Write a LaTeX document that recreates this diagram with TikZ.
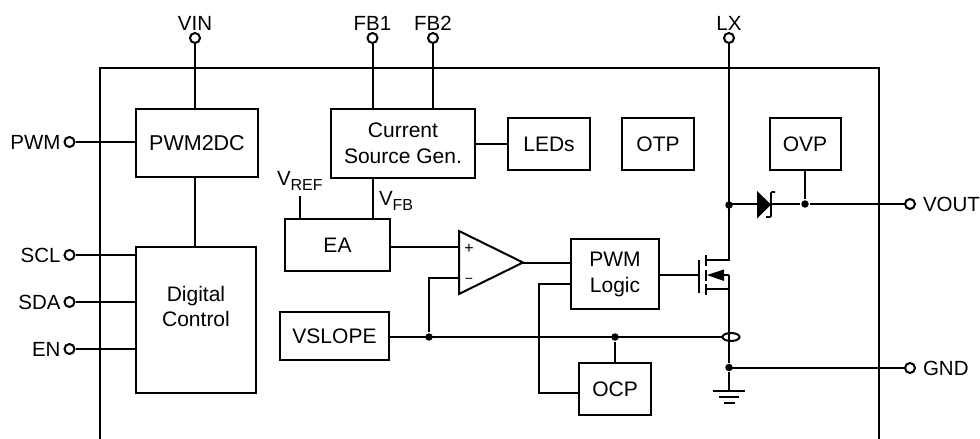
\documentclass[tikz,border=0pt]{standalone}
\usepackage{fontspec}
\setmainfont{Liberation Sans}
\usetikzlibrary{shapes,positioning}

\tikzset{
  every node/.style={font=\fontsize{21}{26}\selectfont},
  blockbox/.style={draw, rectangle, align=center, inner sep=0pt},
  pinring/.style={draw, circle, inner sep=0pt, minimum size=10pt},
  pinname/.style={inner sep=0pt, font=\fontsize{20.5}{26}\selectfont},
  junction/.style={fill, circle, inner sep=0pt, minimum size=7.5pt},
}
\newcommand{\subtag}[1]{\raisebox{-4.5pt}{\fontsize{16}{16}\selectfont #1}}

\begin{document}
\begin{tikzpicture}[x=1pt, y=-1pt, line width=2pt]
    \useasboundingbox (0,0) rectangle (980,439);
    % chip outline
    \coordinate (chipbl) at (100,439);
    \coordinate (chipbr) at (879,439);
    \draw (chipbl) |- (chipbr |- 0,68) -- (chipbr);
    % blocks
    \node[blockbox, minimum width=122pt, minimum height=68pt, font=\fontsize{21.5}{26}\selectfont] (pwmdc) at (197,143) {PWM2DC};
    \node[blockbox, minimum width=120pt, minimum height=146pt] (digital) at (196,320) {};
    \node[pinname, align=center, font=\fontsize{21}{25}\selectfont] (digitalname) at (196,306) {Digital\\Control};
    \node[blockbox, minimum width=144pt, minimum height=69pt] (source) at (403,143.5) {Current\\Source Gen.};
    \node[blockbox, minimum width=82pt, minimum height=52pt] (leds) at (549,144) {LEDs};
    \node[blockbox, minimum width=72pt, minimum height=52pt] (otp) at (658,144) {OTP};
    \node[blockbox, minimum width=71pt, minimum height=52pt] (ovp) at (805,144) {OVP};
    \node[blockbox, minimum width=105pt, minimum height=52pt] (ea) at (337.5,245) {EA};
    \node[blockbox, minimum width=88pt, minimum height=70pt] (logic) at (615,274) {PWM\\Logic};
    \node[blockbox, minimum width=109pt, minimum height=48pt] (vslope) at (334.5,336) {VSLOPE};
    \node[blockbox, minimum width=72pt, minimum height=52pt] (ocp) at (615,389) {OCP};
    % pins
    \node[pinring] (vin) at (195,38) {};
    \node[pinring] (fba) at (372.5,38) {};
    \node[pinring] (fbb) at (433,38) {};
    \node[pinring] (lx) at (729,38) {};
    \node[pinring] (pwm) at (69.5,142) {};
    \node[pinring] (scl) at (69.5,255) {};
    \node[pinring] (sda) at (69.5,302) {};
    \node[pinring] (en) at (69.5,349) {};
    \node[pinring] (vout) at (910,204) {};
    \node[pinring] (gnd) at (910,368) {};
    \node[pinname, above=1pt of vin] (vinname) {VIN};
    \node[pinname, above=1pt of fba] (fbaname) {FB1};
    \node[pinname, above=1pt of fbb] (fbbname) {FB2};
    \node[pinname, above=1pt of lx] (lxname) {LX};
    \node[pinname, left=2pt of pwm] (pwmname) {PWM};
    \node[pinname, left=2pt of scl] (sclname) {SCL};
    \node[pinname, left=2pt of sda] (sdaname) {SDA};
    \node[pinname, left=2pt of en] (enname) {EN};
    \node[pinname, right=6pt of vout] (voutname) {VOUT};
    \node[pinname, right=6pt of gnd] (gndname) {GND};
    \foreach \p/\q in {vin/pwmdc, fba/source, fbb/source}
      \draw (\p) -- (\p |- \q.north);
    \foreach \p/\q in {pwm/pwmdc, scl/digital, sda/digital, en/digital}
      \draw (\p) -- (\p -| \q.west);
    \draw (pwmdc.south -| vin) -- (digital.north -| vin);
    \draw (source.east |- leds) -- (leds);
    % error amp and comparator
    \coordinate (feedback) at (373,178);
    \draw (feedback) -- (feedback |- ea.north);
    \node[pinname, anchor=west] (vfb) at (378,201) {V\subtag{FB}};
    \coordinate (refstub) at (299.5,196);
    \draw (refstub) -- (refstub |- ea.north);
    \node[pinname, anchor=west] (vref) at (276,181) {V\subtag{REF}};
    \coordinate (opa) at (459,231);
    \coordinate (opb) at (459,294);
    \coordinate (opout) at (523,262.5);
    \coordinate (opplus) at (459,247);
    \coordinate (opminus) at (459,278);
    \draw[line join=miter] (opa) -- (opout) -- (opb) -- cycle;
    \node[inner sep=0pt, font=\fontsize{16}{16}\selectfont] (plus) at (469,249) {+};
    \node[inner sep=0pt, font=\fontsize{14}{14}\selectfont] (minus) at (469,281) {−};
    \draw (ea.east |- opplus) -- (opplus);
    \draw (opout) -- (opout -| logic.west);
    % sense line
    \coordinate (lxsw) at (729,205);
    \coordinate (drain) at (729,260);
    \coordinate (bodypt) at (729,275);
    \coordinate (srcpt) at (729,289);
    \node[draw, ellipse, inner sep=0pt, minimum width=17pt, minimum height=8pt] (sense) at (731,337) {};
    \node[junction] (slopedot) at (429,337) {};
    \node[junction] (ocpdot) at (615,337) {};
    \draw (vslope.east |- sense) -- (sense.west);
    \draw (slopedot) |- (opminus);
    \draw (ocpdot) -- (ocp.north -| ocpdot);
    \coordinate (ocpturn) at (539,283.5);
    \draw (logic.west |- ocpturn) -- (ocpturn) |- (ocp.west |- 0,393);
    % output stage
    \node[junction] (swdot) at (lxsw) {};
    \node[junction] (ovpdot) at (805,204) {};
    \node[junction] (gnddot) at (729,367.5) {};
    \draw (lx) -- (lxsw) -- (drain) -- (706,260);
    \draw (706,289) -- (srcpt) -- (gnddot);
    \draw (bodypt) -- (srcpt);
    \draw (ovpdot) -- (ovpdot |- ovp.south);
    \draw (lxsw |- ovpdot) -- (ovpdot) -- (vout);
    \draw (gnddot |- gnd) -- (gnd);
    % schottky diode
    \fill (757,191) -- (771,204.5) -- (757,218.5) -- cycle;
    \draw[line width=1.6pt, rounded corners=1pt] (775,192) -- (771,192) -- (771,217) -- (766,217);
    % mosfet
    \draw (logic.east |- bodypt) -- (699,275);
    \draw (699,260) -- (699,293);
    \draw (706,255) -- (706,266);
    \draw (706,270) -- (706,281);
    \draw (706,284) -- (706,295);
    \fill (707,275) -- (724,269.5) -- (724,281) -- cycle;
    \draw (720,275) -- (bodypt);
    % ground
    \coordinate (gndtop) at (729,391);
    \draw (gnddot) -- (gndtop);
    \draw (713,391) -- (745,391);
    \draw (719,397) -- (739,397);
    \draw (723.5,402.5) -- (734.5,402.5);
\end{tikzpicture}
\end{document}
